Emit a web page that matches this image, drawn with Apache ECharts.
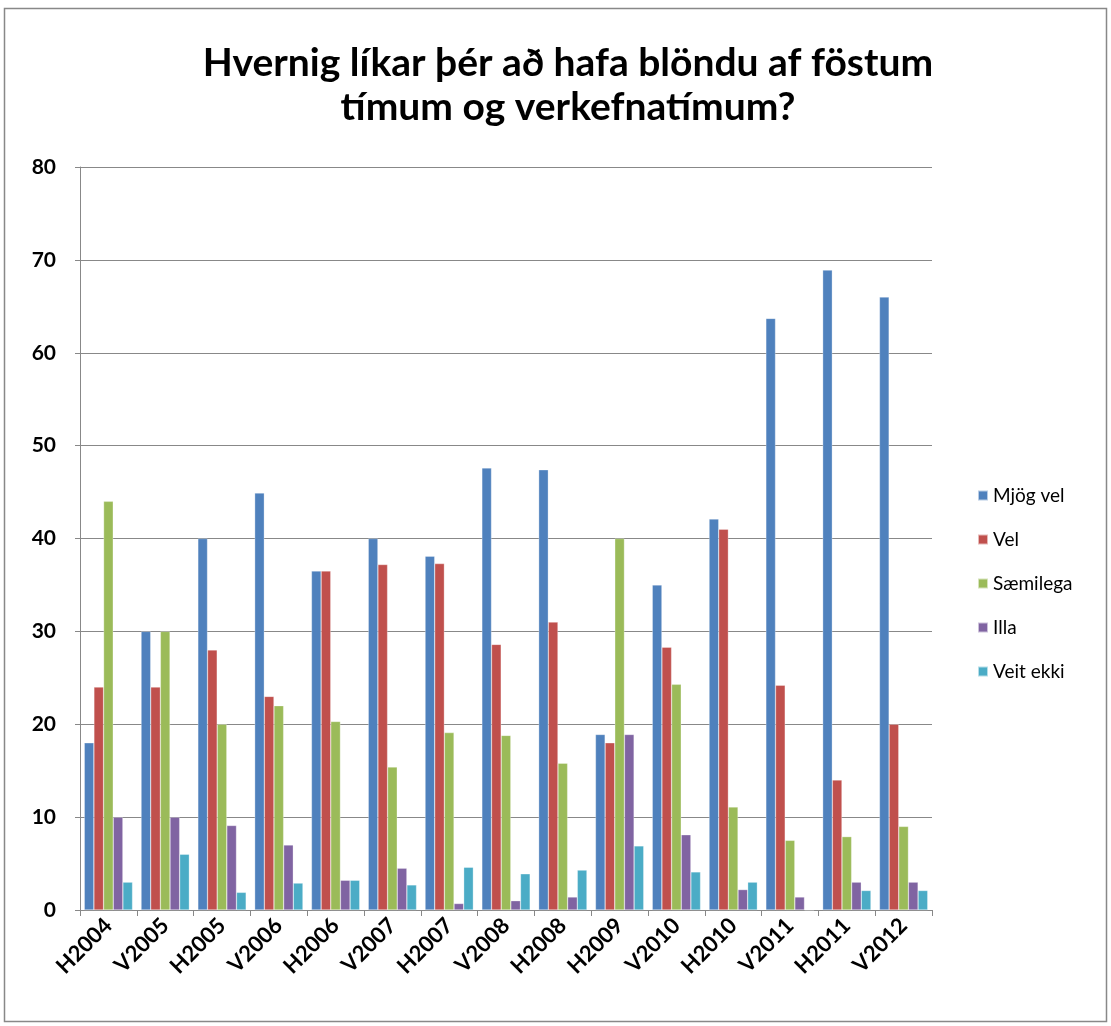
<!DOCTYPE html>
<html><head><meta charset="utf-8">
<script src="https://cdn.jsdelivr.net/npm/echarts@6/dist/echarts.min.js"></script>
<style>html,body{margin:0;padding:0;background:#fff}#c{width:1111px;height:1026px}</style>
</head><body><div id="c"></div>
<script>
const categories = ['H2004','V2005','H2005','V2006','H2006','V2007','H2007','V2008','H2008','H2009','V2010','H2010','V2011','H2011','V2012'];
const mjogVel  = [18, 30, 40, 44.9, 36.5, 40, 38.1, 47.6, 47.4, 18.9, 35, 42.1, 63.7, 68.9, 66];
const vel      = [24, 24, 28, 23, 36.5, 37.2, 37.3, 28.6, 31, 18, 28.3, 41, 24.2, 14, 20];
const saemilega= [44, 30, 20, 22, 20.3, 15.4, 19.1, 18.8, 15.8, 40, 24.3, 11.1, 7.5, 7.9, 9];
const illa     = [10, 10, 9.1, 7, 3.2, 4.5, 0.7, 1, 1.4, 18.9, 8.1, 2.2, 1.4, 3, 3];
const veitEkki = [3, 6, 1.9, 2.9, 3.2, 2.7, 4.6, 3.9, 4.3, 6.9, 4.1, 3, 0, 2.1, 2.1];
const seriesNames = ['Mjög vel','Vel','Sæmilega','Illa','Veit ekki'];
const seriesData = [mjogVel, vel, saemilega, illa, veitEkki];
const colors = ['#4F81BD','#C0504D','#9BBB59','#8064A2','#4BACC6'];
const yTicks = [0,10,20,30,40,50,60,70,80];

const chart = echarts.init(document.getElementById('c'));
chart.setOption({
  animation:false,
  color: colors,
  title:{
    text:'Hvernig líkar þér að hafa blöndu af föstum\ntímum og verkefnatímum?',
    left:563, textAlign:'center', top:36,
    textStyle:{fontFamily:'Lato', fontWeight:'bold', fontSize:39, lineHeight:44, color:'#000'}
  },
  graphic:[{type:'rect', shape:{x:4.5,y:8.5,width:1102,height:1013}, style:{fill:'none', stroke:'#888', lineWidth:1.5}, silent:true}],
  legend:{
    orient:'vertical', left:972, top:481, itemGap:25, itemWidth:10, itemHeight:10,
    icon:'rect', data:seriesNames,
    textStyle:{fontFamily:'Lato', fontSize:19, color:'#000'}
  },
  grid:{left:80, right:179, top:167, bottom:116},
  xAxis:{
    type:'category', data:categories,
    axisLine:{lineStyle:{color:'#888', width:1}},
    axisTick:{show:true, length:6, lineStyle:{color:'#888'}},
    axisLabel:{rotate:45, fontFamily:'Lato', fontWeight:'bold', fontSize:22, color:'#000', margin:12, interval:0}
  },
  yAxis:{
    type:'value', min:0, max:80, interval:10,
    axisLine:{show:true, lineStyle:{color:'#888'}},
    axisTick:{show:true, length:5, lineStyle:{color:'#888'}},
    splitLine:{lineStyle:{color:'#888', width:1}},
    axisLabel:{fontFamily:'Lato', fontWeight:'bold', fontSize:21, color:'#000', margin:24,
      formatter:v=>yTicks.includes(v)?String(v):''}
  },
  series: seriesNames.map((n,i)=>({
    name:n, type:'bar', data:seriesData[i], barGap:'0%', barCategoryGap:'15%',
    itemStyle:{borderColor:'rgba(255,255,255,0.6)', borderWidth:0.5}
  }))
});
</script></body></html>
